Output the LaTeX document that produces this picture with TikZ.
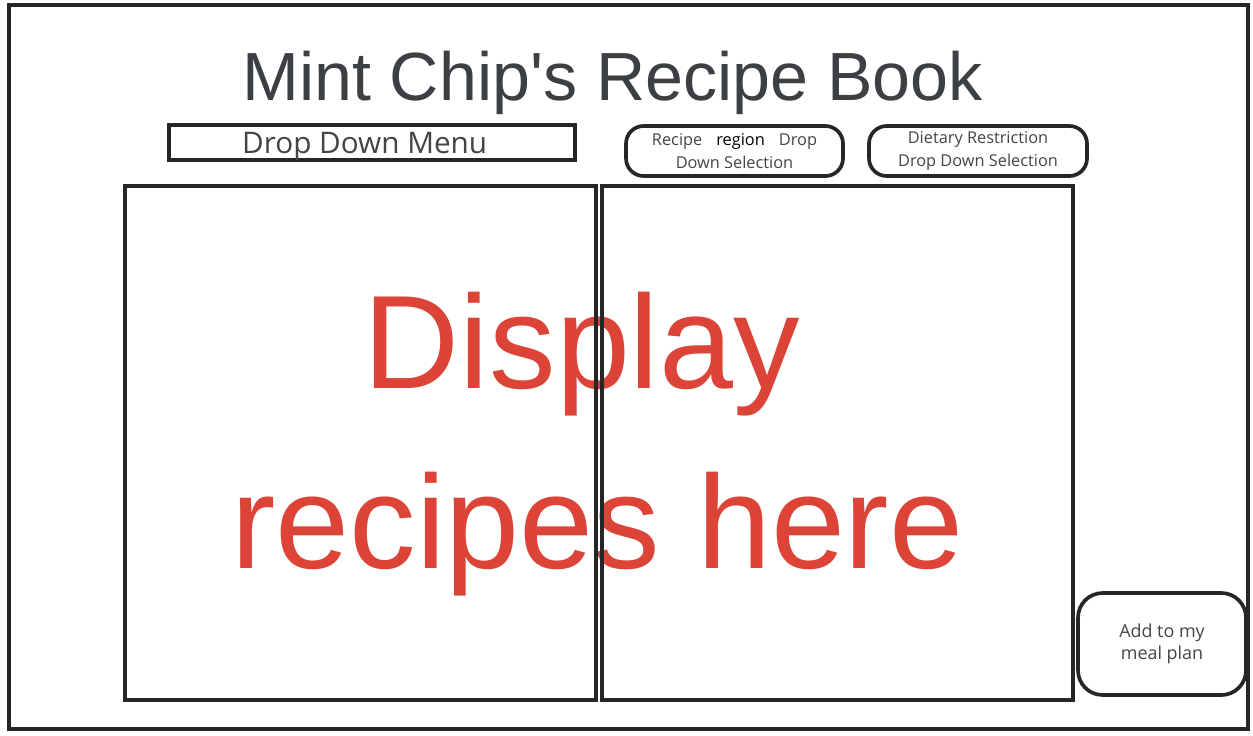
\documentclass[tikz,border=0pt]{standalone}
\usepackage{fontspec}
\setmainfont{Open Sans}
\newfontfamily\headfont{Liberation Sans}
\definecolor{framegray}{HTML}{262626}
\definecolor{titlegray}{HTML}{3C4043}
\definecolor{labelgray}{HTML}{444444}
\definecolor{displayred}{HTML}{DB4437}

\begin{document}
\begin{tikzpicture}[x=0.02cm,y=-0.02cm,
		panel/.style={draw=framegray, line width=2.1pt, minimum width=9.42cm, minimum height=10.28cm, inner sep=0pt},
		pill/.style={draw=framegray, line width=2.1pt, rounded corners=10pt, align=center, text=labelgray, inner sep=0pt, font=\fontsize{9.3}{13}\selectfont},
		display/.style={text=displayred, font=\headfont\fontsize{75.7}{102}\selectfont, anchor=base, inner sep=0pt}]
		\useasboundingbox (0,0) rectangle (1253,735);
		\node[draw=framegray, line width=2.1pt, minimum width=24.78cm, minimum height=14.48cm] (frame) at (628.5,367) {};
		\node[text=titlegray, font=\headfont\fontsize{38.8}{44}\selectfont, anchor=base, inner sep=0pt] (title) at (612.5,100) {Mint Chip's Recipe Book};
		% big placeholder text, panels drawn over it
		\node[display] (displayA) at (582,388) {Display};
		\node[display] (displayB) at (597.5,568) {recipes here};
		\node[panel] (leftpanel) at (360.5,443) {};
		\node[panel] (rightpanel) at (837.5,443) {};
		\node[draw=framegray, line width=2.1pt, minimum width=8.12cm, minimum height=0.7cm, inner sep=0pt, text depth=0pt, text=labelgray, font=\fontsize{16.9}{20}\selectfont] (menu) at (372,142.5) {\hspace{-8.3pt}Drop Down Menu};
		\node[pill, minimum width=4.34cm, minimum height=1cm] (regionsel) at (734.5,151) {Recipe\hspace{8pt}\textcolor{black}{region}\hspace{8pt}Drop\\Down Selection};
		\node[pill, minimum width=4.36cm, minimum height=1cm] (dietsel) at (978,151) {Dietary Restriction\\Drop Down Selection};
		\node[pill, rounded corners=14pt, minimum width=3.36cm, minimum height=2.04cm, font=\fontsize{10.2}{12.5}\selectfont] (mealplan) at (1162,644) {Add to my\\meal plan};
\end{tikzpicture}
\end{document}
